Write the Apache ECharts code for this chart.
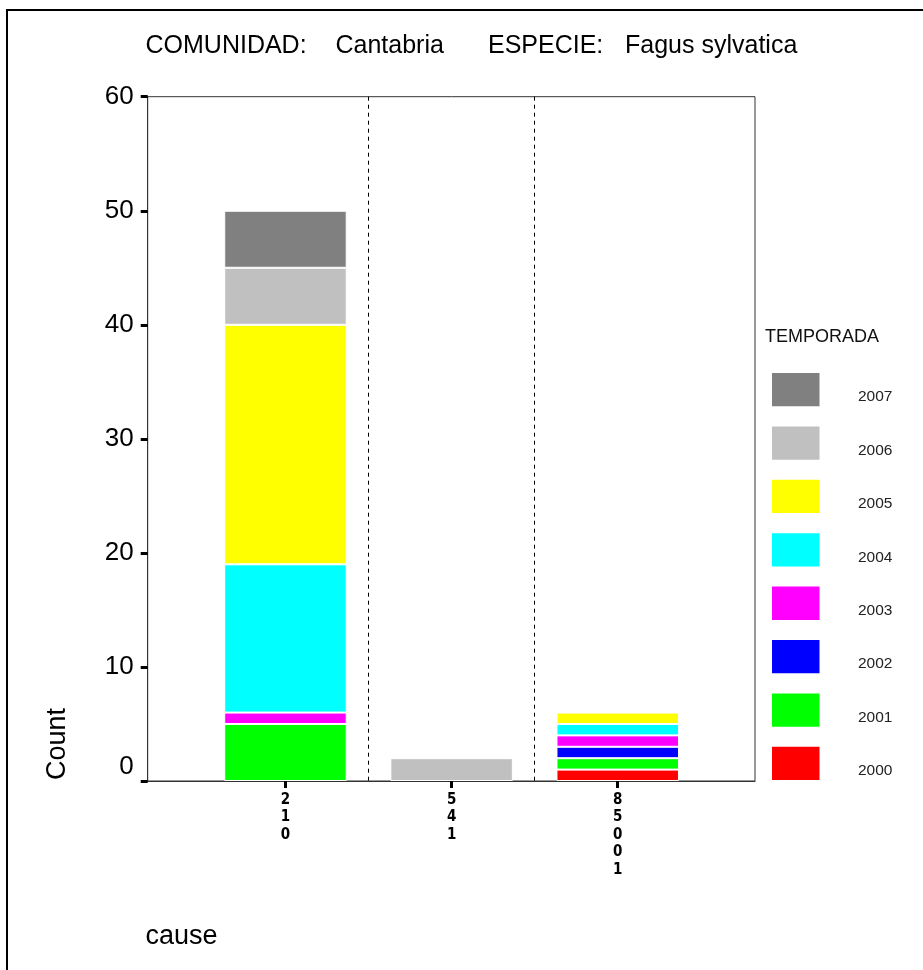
<!DOCTYPE html>
<html><head><meta charset="utf-8">
<script src="https://cdn.jsdelivr.net/npm/echarts@6/dist/echarts.min.js"></script>
<style>html,body{margin:0;padding:0;background:#fff}#c{width:923px;height:970px}</style>
</head><body><div id="c"></div>
<script>
// categories (cause codes) and seasons
const causes = ['210', '541', '85001'];
const seasons = ['2000', '2001', '2002', '2003', '2004', '2005', '2006', '2007'];
const seasonColors = ['#ff0000', '#00ff00', '#0000ff', '#ff00ff', '#00ffff', '#ffff00', '#c0c0c0', '#808080'];
// counts per cause, one array per season
const c2000 = [0, 0, 1];
const c2001 = [5, 0, 1];
const c2002 = [0, 0, 1];
const c2003 = [1, 0, 1];
const c2004 = [13, 0, 1];
const c2005 = [21, 0, 1];
const c2006 = [5, 2, 0];
const c2007 = [5, 0, 0];
const yTicks = [0, 10, 20, 30, 40, 50, 60];

const counts = [c2000, c2001, c2002, c2003, c2004, c2005, c2006, c2007];
const FONT = '"Liberation Sans", Arial, sans-serif';
const yMin = yTicks[0], yMax = yTicks[yTicks.length - 1];

const series = seasons.map((s, i) => ({
  name: s,
  type: 'bar',
  stack: 'total',
  xAxisIndex: 1,
  yAxisIndex: 1,
  barWidth: 122.5,
  data: counts[i].map(v => (v === 0 ? null : v)),
  itemStyle: { color: seasonColors[i], borderColor: '#ffffff', borderWidth: 1 },
  emphasis: { disabled: true }
}));

const chart = echarts.init(document.getElementById('c'), null, { renderer: 'canvas' });
const titleBase = { fontFamily: FONT, fontSize: 25, color: '#000', lineHeight: 28 };
chart.setOption({
  animation: false,
  backgroundColor: '#ffffff',
  title: {
    text: '{a|COMUNIDAD:}{b|Cantabria}{c|ESPECIE:}{d|Fagus sylvatica}',
    left: 145.5, top: 32, padding: 0,
    textStyle: {
      fontFamily: FONT, fontSize: 25, fontWeight: 'normal', color: '#000',
      rich: {
        a: Object.assign({ width: 190 }, titleBase),
        b: Object.assign({ width: 152.5 }, titleBase),
        c: Object.assign({ width: 137 }, titleBase),
        d: Object.assign({}, titleBase)
      }
    }
  },
  grid: [
    { left: 147.7, top: 96.7, width: 607.3, height: 684.3,
      show: true, borderColor: '#333', borderWidth: 1, backgroundColor: 'transparent' },
    { left: 202.4, top: 96.7, width: 498.4, height: 684.3, show: false }
  ],
  legend: {
    orient: 'vertical', left: 772, top: 373, padding: 0,
    itemWidth: 47.5, itemHeight: 33.3, itemGap: 20.1,
    icon: 'rect', selectedMode: false,
    data: seasons.slice().reverse(),
    itemStyle: { borderWidth: 0 },
    formatter: name => '{t|' + name + '}',
    textStyle: {
      fontFamily: FONT, fontSize: 15.5, color: '#222',
      rich: { t: { fontFamily: FONT, fontSize: 15.5, color: '#222', padding: [15, 0, 0, 33.5] } }
    }
  },
  xAxis: [
    { type: 'value', gridIndex: 0, min: 0, max: 1,
      axisLine: { show: true, onZero: false, lineStyle: { color: '#333', width: 1 } },
      axisTick: { show: false }, axisLabel: { show: false }, splitLine: { show: false } },
    { type: 'category', gridIndex: 1, data: causes, boundaryGap: true,
      axisLine: { show: false },
      axisTick: { show: true, alignWithLabel: true, length: 7, lineStyle: { color: '#000', width: 3 } },
      splitLine: { show: true, showMinLine: false, showMaxLine: false,
        lineStyle: { type: [4, 4], color: '#000', width: 1 } },
      axisLabel: {
        formatter: v => v.split('').join('\n'),
        fontFamily: '"Liberation Sans Narrow", "DejaVu Sans Condensed", sans-serif',
        fontWeight: 'bold', fontSize: 15, lineHeight: 17.5, color: '#000', margin: 10
      } }
  ],
  yAxis: [
    { type: 'value', gridIndex: 0, min: yMin, max: yMax, interval: 10,
      axisLine: { show: true, onZero: false, lineStyle: { color: '#333', width: 1 } },
      splitLine: { show: false },
      axisTick: { show: true, length: 7, lineStyle: { color: '#000', width: 3 } },
      axisLabel: {
        fontFamily: FONT, fontSize: 26, color: '#000', margin: 14,
        formatter: v => (v === 0 ? '{z|0}' : String(v)),
        rich: { z: { fontFamily: FONT, fontSize: 26, color: '#000', padding: [0, 0, 28, 0] } }
      } },
    { type: 'value', gridIndex: 1, min: yMin, max: yMax, interval: 10, show: false }
  ],
  graphic: [
    { type: 'rect', silent: true, shape: { x: 7, y: 10, width: 1000, height: 1000 },
      style: { fill: 'none', stroke: '#000', lineWidth: 2 } },
    { type: 'text', silent: true, x: 765, y: 337,
      style: { text: 'TEMPORADA', font: '18px ' + FONT, fill: '#111', textAlign: 'left', textVerticalAlign: 'middle' } },
    { type: 'text', silent: true, x: 57.5, y: 744, rotation: Math.PI / 2,
      style: { text: 'Count', font: '27px ' + FONT, fill: '#000', textAlign: 'center', textVerticalAlign: 'middle' } },
    { type: 'text', silent: true, x: 145.5, y: 937,
      style: { text: 'cause', font: '27px ' + FONT, fill: '#000', textAlign: 'left', textVerticalAlign: 'middle' } }
  ],
  series: series
});
</script>
</body></html>
